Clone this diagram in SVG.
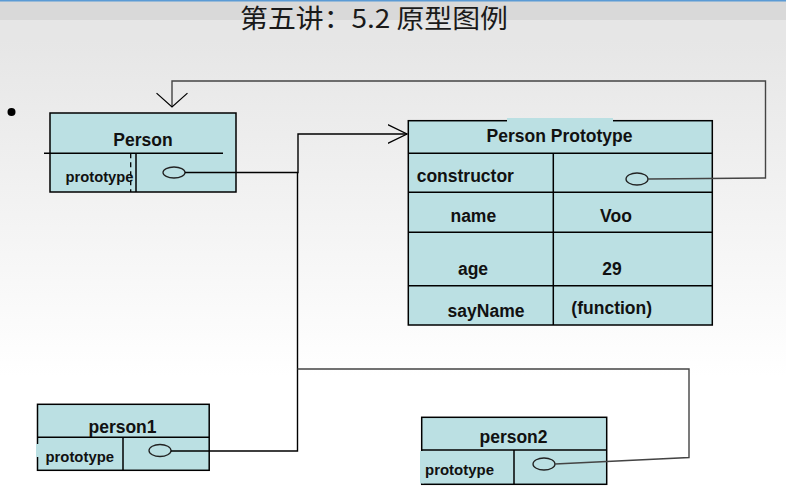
<svg xmlns="http://www.w3.org/2000/svg" width="786" height="501" viewBox="0 0 786 501">
<defs>
<linearGradient id="bg" x1="0" y1="0" x2="0" y2="501" gradientUnits="userSpaceOnUse">
<stop offset="0" stop-color="#e6e6e6"/>
<stop offset="0.08" stop-color="#e6e6e6"/>
<stop offset="0.75" stop-color="#ffffff"/>
<stop offset="1" stop-color="#ffffff"/>
</linearGradient>
<marker id="arrR" markerUnits="userSpaceOnUse" markerWidth="20" markerHeight="20" viewBox="0 0 18 18" refX="17.5" refY="9" orient="auto">
<path d="M0,0.5 L17.5,9 L0,17.5" fill="none" stroke="#000" stroke-width="1.2"/>
</marker>
<marker id="arrD" markerUnits="userSpaceOnUse" markerWidth="32" markerHeight="32" viewBox="0 0 14 30" refX="13" refY="15" orient="auto">
<path d="M0,0.5 L13,15 L0,29.5" fill="none" stroke="#000" stroke-width="1.2"/>
</marker>
<style>
.box{fill:#bbe0e3;stroke:#000;stroke-width:1.5}
.ln{fill:none;stroke:#000;stroke-width:1.5}
.patch{fill:#bbe0e3;stroke:none}
.t{font-family:"Liberation Sans",Arial,sans-serif;font-weight:bold;font-size:17.5px;fill:#111}
.c{text-anchor:middle}
.s{font-family:"Liberation Sans",Arial,sans-serif;font-weight:bold;font-size:15px;fill:#111}
.el{fill:none;stroke:#222;stroke-width:1.3}
.con{fill:none;stroke:#000;stroke-width:1.4}
.con2{fill:none;stroke:#444;stroke-width:1.4}
</style>
</defs>
<rect x="0" y="0" width="786" height="501" fill="url(#bg)"/>
<rect x="0" y="1" width="786" height="19" fill="#d9d9d9"/>
<rect x="0" y="0" width="786" height="1.5" fill="#5b9bd5"/>
<text x="240" y="27.5" textLength="268" lengthAdjust="spacingAndGlyphs" font-family="'Noto Sans CJK SC',sans-serif" font-size="26" fill="#1a1a1a">第五讲：5.2 原型图例</text>
<circle cx="11.5" cy="112" r="4" fill="#000"/>

<g id="person">
<rect class="box" x="50" y="113" width="186" height="79"/>
<line class="ln" x1="44" y1="153.3" x2="223" y2="153.3"/>
<line class="ln" x1="136" y1="153.3" x2="136" y2="192"/>
<line x1="130.7" y1="153.3" x2="130.7" y2="192" stroke="#000" stroke-width="1.3" stroke-dasharray="5,4"/>
<rect class="patch" x="118" y="166" width="12" height="21"/>
<text class="t c" x="143" y="146">Person</text>
<text class="s" x="65.5" y="181.5" textLength="68" lengthAdjust="spacingAndGlyphs">prototype</text>
<ellipse class="el" cx="174" cy="172.5" rx="11" ry="5.5"/>
</g>

<g id="person-prototype">
<rect class="box" x="408.3" y="120.7" width="304" height="204.3"/>
<rect class="patch" x="507" y="118" width="106" height="4"/>
<line class="ln" x1="408.3" y1="153.3" x2="712.3" y2="153.3"/>
<line class="ln" x1="408.3" y1="192.3" x2="712.3" y2="192.3"/>
<line class="ln" x1="408.3" y1="232.3" x2="712.3" y2="232.3"/>
<line class="ln" x1="408.3" y1="285.7" x2="712.3" y2="285.7"/>
<line class="ln" x1="553.3" y1="153.3" x2="553.3" y2="325"/>
<text class="t c" x="559.5" y="142.3">Person Prototype</text>
<text class="t" x="416.7" y="181.7">constructor</text>
<ellipse class="el" cx="637" cy="179" rx="11" ry="6"/>
<text class="t c" x="473.3" y="221.7">name</text>
<text class="t c" x="616" y="221.7">Voo</text>
<text class="t c" x="473" y="275">age</text>
<text class="t c" x="612" y="275">29</text>
<text class="t c" x="486" y="317">sayName</text>
<text class="t c" x="611.7" y="313.5">(function)</text>
</g>

<g id="person1">
<rect class="box" x="37.5" y="404.3" width="171.7" height="66"/>
<rect class="patch" x="36" y="444" width="3" height="13"/>
<line class="ln" x1="37.5" y1="437.3" x2="209.2" y2="437.3"/>
<line class="ln" x1="123" y1="437.3" x2="123" y2="470.3"/>
<text class="t c" x="122.5" y="432.5">person1</text>
<text class="s" x="45.5" y="461.7" textLength="68.5" lengthAdjust="spacingAndGlyphs">prototype</text>
<ellipse class="el" cx="160" cy="450.5" rx="11" ry="6"/>
</g>

<g id="person2">
<rect class="box" x="421.7" y="417.3" width="185" height="67"/>
<rect class="patch" x="420" y="451" width="3.5" height="32.5"/>
<line class="ln" x1="421.7" y1="450" x2="606.7" y2="450"/>
<line class="ln" x1="514" y1="450" x2="514" y2="484.3"/>
<text class="t c" x="513.5" y="443">person2</text>
<text class="s" x="425" y="474.5" textLength="69" lengthAdjust="spacingAndGlyphs">prototype</text>
<ellipse class="el" cx="544" cy="464" rx="11" ry="6"/>
</g>

<g id="connectors">
<polyline class="con" points="185,172.5 298,172.5 298,134 407,134" marker-end="url(#arrR)"/>
<polyline class="con" points="171,451 297.5,451 297.5,172.5"/>
<polyline class="con2" points="555,464 689,457.5 689,369 297.5,369"/>
<polyline class="con2" points="648,179 765.5,178 765.5,81 172,81 172,107" marker-end="url(#arrD)"/>
</g>
</svg>
